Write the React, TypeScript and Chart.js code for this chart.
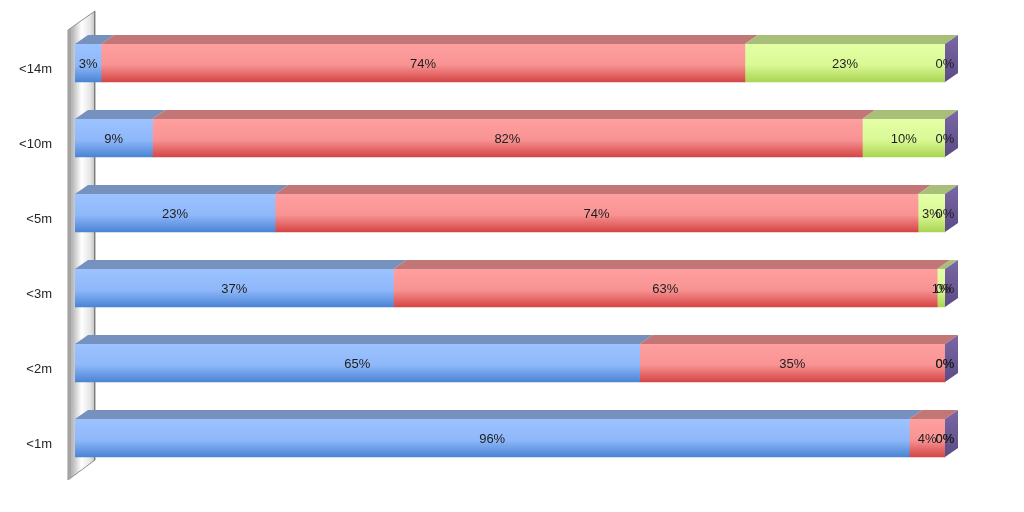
import React, { useEffect, useRef } from "react";
import { Chart, registerables } from "chart.js";

Chart.register(...registerables);

// Categories (bottom to top in the picture)
const categories = ["<1m", "<2m", "<3m", "<5m", "<10m", "<14m"];
// Series values, percent of each row
const seriesBlue = [95.9, 64.9, 36.6, 23.0, 8.9, 3.0];
const seriesRed = [4.1, 35.1, 62.5, 73.9, 81.6, 74.0];
const seriesGreen = [0, 0, 0.9, 3.1, 9.5, 23.0];
const seriesPurple = [0, 0, 0, 0, 0, 0];
const seriesNames = ["Series 1", "Series 2", "Series 3", "Series 4"];

const BAR_T = 38;
const DX = 13;
const DY = 9;
const FONT = "'Liberation Sans', Arial, sans-serif";

const frontColors = [
  ["#9cc3ff", "#8fb8fa", "#4a84d4"],
  ["#ff9f9f", "#f89393", "#d54545"],
  ["#e4ffa6", "#daf995", "#a9d453"],
  ["#8a78b4", "#7a68a6", "#5b4a84"],
];
const topColors = ["#7791bf", "#c27676", "#a7bf79", "#8a79ad"];
const sideColors = ["#7a68a6", "#5b4a84"];

function frontGradient(idx: number) {
  const [c0, c1, c2] = frontColors[idx];
  return (ctx: any) => {
    const chart = ctx.chart;
    const ys = chart.scales && chart.scales.y;
    if (!ys || ctx.dataIndex === undefined) return c1;
    const yc = ys.getPixelForValue(ctx.dataIndex);
    if (!isFinite(yc)) return c1;
    const g = chart.ctx.createLinearGradient(0, yc - BAR_T / 2, 0, yc + BAR_T / 2);
    g.addColorStop(0, c0);
    g.addColorStop(0.55, c1);
    g.addColorStop(1, c2);
    return g;
  };
}

const threeDPlugin = {
  id: "threeD",
  beforeDatasetsDraw(chart: any) {
    const { ctx, chartArea: a } = chart;
    const x0 = a.left - 7;
    const x1 = a.left + 20;
    ctx.save();
    ctx.beginPath();
    ctx.moveTo(x0, a.top + 4.5);
    ctx.lineTo(x1, a.top - 14.5);
    ctx.lineTo(x1, a.bottom - 15.5);
    ctx.lineTo(x0, a.bottom + 4.5);
    ctx.closePath();
    const g = ctx.createLinearGradient(x0, 0, x1, 0);
    g.addColorStop(0, "#a8a8a8");
    g.addColorStop(0.18, "#bcbcbc");
    g.addColorStop(0.5, "#ffffff");
    g.addColorStop(0.82, "#e6e6e6");
    g.addColorStop(1, "#c0c0c0");
    ctx.fillStyle = g;
    ctx.fill();
    ctx.strokeStyle = "#8e8e8e";
    ctx.lineWidth = 1;
    ctx.stroke();
    // front edge thickness strip
    ctx.beginPath();
    ctx.moveTo(x0, a.top + 4.5);
    ctx.lineTo(x0 + 3, a.top + 2.5);
    ctx.lineTo(x0 + 3, a.bottom + 2.5);
    ctx.lineTo(x0, a.bottom + 4.5);
    ctx.closePath();
    ctx.fillStyle = "#a4a4a4";
    ctx.fill();
    // back edge line
    ctx.beginPath();
    ctx.moveTo(x1 - 0.5, a.top - 14.5);
    ctx.lineTo(x1 - 0.5, a.bottom - 15.5);
    ctx.strokeStyle = "#7c7c7c";
    ctx.stroke();
    ctx.restore();
  },
  afterDatasetsDraw(chart: any) {
    const { ctx } = chart;
    const n = chart.data.datasets.length;
    ctx.save();
    // top faces and side face
    for (let d = 0; d < n; d++) {
      const meta = chart.getDatasetMeta(d);
      meta.data.forEach((el: any) => {
        const p = el.getProps(["x", "y", "base", "height"], true);
        const left = Math.min(p.x, p.base);
        const right = Math.max(p.x, p.base);
        const top = p.y - p.height / 2;
        const bottom = p.y + p.height / 2;
        ctx.beginPath();
        ctx.moveTo(left, top);
        ctx.lineTo(right, top);
        ctx.lineTo(right + DX, top - DY);
        ctx.lineTo(left + DX, top - DY);
        ctx.closePath();
        ctx.fillStyle = topColors[d];
        ctx.fill();
        if (d === n - 1) {
          ctx.beginPath();
          ctx.moveTo(right, top);
          ctx.lineTo(right + DX, top - DY);
          ctx.lineTo(right + DX, bottom - DY);
          ctx.lineTo(right, bottom);
          ctx.closePath();
          const g = ctx.createLinearGradient(0, top - DY, 0, bottom);
          g.addColorStop(0, sideColors[0]);
          g.addColorStop(1, sideColors[1]);
          ctx.fillStyle = g;
          ctx.fill();
        }
      });
    }
    // data labels
    ctx.font = `13px ${FONT}`;
    ctx.fillStyle = "#1e1e1e";
    ctx.textAlign = "center";
    ctx.textBaseline = "middle";
    for (let d = 0; d < n; d++) {
      const meta = chart.getDatasetMeta(d);
      const vals = chart.data.datasets[d].data as number[];
      meta.data.forEach((el: any, i: number) => {
        const p = el.getProps(["x", "y", "base"], true);
        const cx = (p.x + p.base) / 2;
        ctx.fillText(Math.round(vals[i]) + "%", cx, p.y + 1);
      });
    }
    ctx.restore();
  },
};

export default function App() {
  const ref = useRef<HTMLCanvasElement | null>(null);
  useEffect(() => {
    if (!ref.current) return;
    const allSeries = [seriesBlue, seriesRed, seriesGreen, seriesPurple];
    const chart = new Chart(ref.current, {
      type: "bar",
      data: {
        labels: categories,
        datasets: allSeries.map((data, i) => ({
          label: seriesNames[i],
          data,
          backgroundColor: frontGradient(i) as any,
          borderWidth: 0,
          barThickness: BAR_T,
        })),
      },
      options: {
        indexAxis: "y",
        animation: false,
        responsive: false,
        maintainAspectRatio: false,
        layout: { padding: { left: 0, right: 79, top: 25.5, bottom: 36.5 } },
        plugins: {
          legend: { display: false },
          tooltip: { enabled: false },
        },
        scales: {
          x: { stacked: true, min: 0, max: 100, display: false },
          y: {
            stacked: true,
            reverse: true,
            grid: { display: false, drawTicks: false },
            border: { display: false },
            ticks: {
              padding: 23,
              labelOffset: 6,
              color: "#262626",
              font: { family: FONT, size: 13 },
            },
            afterFit: (scale: any) => {
              scale.width = 75;
              scale.paddingTop = 0;
              scale.paddingBottom = 0;
            },
          },
        },
      },
      plugins: [threeDPlugin],
    });
    return () => chart.destroy();
  }, []);
  return (
    <div style={{ position: "fixed", left: 0, top: 0, width: 1024, height: 512, background: "#fff" }}>
      <canvas ref={ref} width={1024} height={512} />
    </div>
  );
}
